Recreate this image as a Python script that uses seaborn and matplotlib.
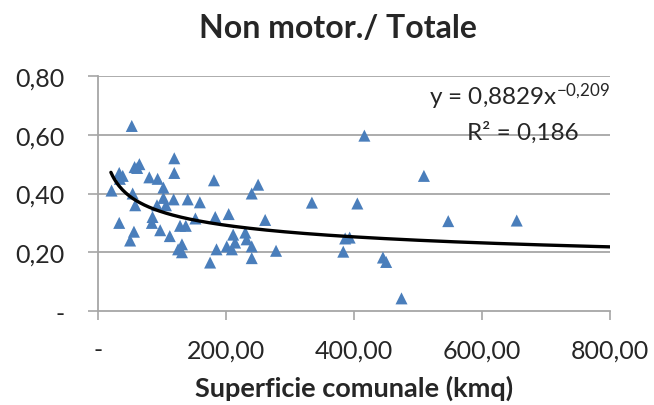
import numpy as np
import pandas as pd
import matplotlib
matplotlib.use('Agg')
import matplotlib.pyplot as plt
import seaborn as sns

# superficie comunale (kmq) e quota non motorizzata / totale
superficie = [52.6, 57, 61, 64.5, 119, 119, 33, 38.5, 34, 80, 93,
              21, 54, 102, 181, 250, 240, 118, 102, 140, 159,
              58, 92, 106, 85, 183, 204, 152, 33, 84, 261,
              128, 137, 56, 97, 50, 112, 211, 230, 232,
              131, 125, 131, 185, 201, 209, 214, 240, 240, 278, 175,
              416, 509, 334, 405, 547, 654, 386, 393, 383, 445, 450, 474]
quota = [0.63, 0.49, 0.487, 0.50, 0.52, 0.47, 0.47, 0.46, 0.45, 0.455, 0.45,
         0.41, 0.40, 0.42, 0.445, 0.43, 0.40, 0.38, 0.385, 0.38, 0.37,
         0.36, 0.36, 0.36, 0.32, 0.32, 0.33, 0.315, 0.30, 0.30, 0.31,
         0.29, 0.29, 0.27, 0.275, 0.24, 0.255, 0.26, 0.267, 0.244,
         0.227, 0.21, 0.20, 0.21, 0.22, 0.21, 0.233, 0.22, 0.18, 0.205, 0.165,
         0.597, 0.46, 0.369, 0.366, 0.306, 0.308, 0.247, 0.25, 0.202, 0.182, 0.167, 0.043]

# linea di tendenza (potenza) riportata nel grafico
coeff_a = 0.8829
coeff_b = -0.209
r_quadro = '0,186'

y_ticks = [0, 0.2, 0.4, 0.6, 0.8]
y_labels = ['-', '0,20', '0,40', '0,60', '0,80']
x_ticks = [0, 200, 400, 600, 800]
x_labels = ['-', '200,00', '400,00', '600,00', '800,00']

df = pd.DataFrame({'Superficie': superficie, 'Quota': quota})
x_fit = np.linspace(20, 800, 300)
trend = pd.DataFrame({'x': x_fit, 'y': coeff_a * x_fit ** coeff_b})

sns.set_style('white')
plt.rcParams['font.family'] = ['Lato', 'DejaVu Sans']
plt.rcParams['mathtext.fontset'] = 'custom'
plt.rcParams['mathtext.rm'] = 'Lato'
plt.rcParams['mathtext.it'] = 'Lato'

fig = plt.figure(figsize=(6.54, 4.06), dpi=100)
ax = fig.add_axes([0.150, 0.2315, 0.783, 0.5788])

for t in y_ticks[1:]:
    ax.axhline(t, color='#a6a6a6', lw=1.3, zorder=0)

sns.scatterplot(data=df, x='Superficie', y='Quota', marker='^', s=75,
                color='#4a7ebb', edgecolor='none', ax=ax, zorder=3)
sns.lineplot(data=trend, x='x', y='y', color='black', lw=2.4, ax=ax, zorder=4)

ax.set_xlim(0, 800)
ax.set_ylim(0, 0.8)
ax.set_xticks(x_ticks)
ax.set_xticklabels(x_labels, fontsize=18)
ax.set_yticks(y_ticks)
ax.set_yticklabels(y_labels, fontsize=18)
ax.tick_params(axis='y', direction='out', length=7, width=1.2,
               color='#a6a6a6', pad=17)
ax.tick_params(axis='x', direction='out', length=6.5, width=1.2,
               color='#a6a6a6', pad=13)
ax.xaxis.set_ticks_position('bottom')
ax.yaxis.set_ticks_position('left')

for side in ['top', 'right']:
    ax.spines[side].set_visible(False)
for side in ['left', 'bottom']:
    ax.spines[side].set_color('#a6a6a6')
    ax.spines[side].set_linewidth(1.3)

ax.set_xlabel('Superficie comunale (kmq)', fontsize=19.5, fontweight='bold', labelpad=10)
ax.set_ylabel('')
fig.text(0.517, 0.93, 'Non motor./ Totale', ha='center', va='center',
         fontsize=23, fontweight='bold')

ax.text(1.0, 0.915, r'y = 0,8829x$^{-0{,}209}$', transform=ax.transAxes,
        ha='right', va='center', fontsize=17.5)
ax.text(0.9375, 0.762, 'R² = ' + r_quadro, transform=ax.transAxes,
        ha='right', va='center', fontsize=17.5)

plt.savefig('out.png', dpi=100)
